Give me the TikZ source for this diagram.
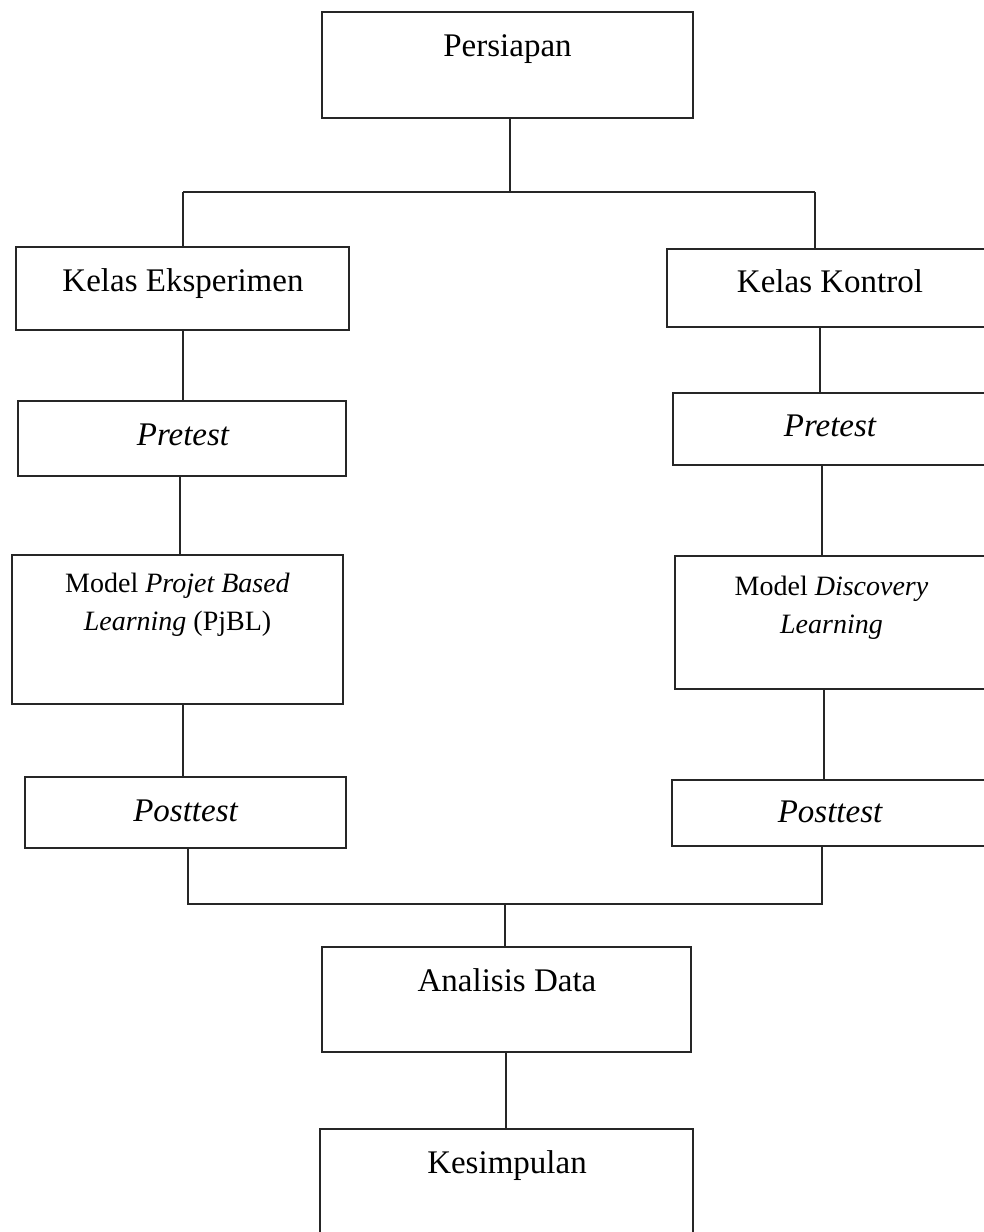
\documentclass[tikz,border=0pt]{standalone}
\usepackage{fontspec}
\setmainfont{Liberation Serif}
\usetikzlibrary{calc}
\begin{document}
\begin{tikzpicture}[x=1pt,y=-1pt,
  box/.style={draw=black!85, line width=1.8pt, rectangle, inner sep=0pt},
  conn/.style={draw=black!85, line width=1.2pt},
  big/.style={font=\fontsize{33}{38}\selectfont, inner sep=0pt, anchor=base},
  mid/.style={font=\fontsize{28}{37.5}\selectfont, inner sep=0pt, anchor=base, align=center}]
\useasboundingbox[fill=white] (0,0) rectangle (984,1232);

% boxes
\node[box, minimum width=371pt, minimum height=106pt] (persiapan) at (507.5,65) {};
\node[box, minimum width=333pt, minimum height=83pt] (ke) at (182.5,288.5) {};
\node[box, minimum width=325pt, minimum height=78pt] (kk) at (829.5,288) {};
\node[box, minimum width=328pt, minimum height=75pt] (prel) at (182,438.5) {};
\node[box, minimum width=319pt, minimum height=72pt] (prer) at (832.5,429) {};
\node[box, minimum width=331pt, minimum height=149pt] (pjbl) at (177.5,629.5) {};
\node[box, minimum width=317pt, minimum height=133pt] (disc) at (833.5,622.5) {};
\node[box, minimum width=321pt, minimum height=71pt] (postl) at (185.5,812.5) {};
\node[box, minimum width=320pt, minimum height=66pt] (postr) at (832,813) {};
\node[box, minimum width=369pt, minimum height=105pt] (analisis) at (506.5,999.5) {};
\node[box, minimum width=373pt, minimum height=135pt] (kesimpulan) at (506.5,1196.5) {};

% texts
\node[big] (t-persiapan) at (507.5,56) {Persiapan};
\node[big] (t-ke) at (183,291.5) {Kelas Eksperimen};
\node[big] (t-kk) at (830,292.5) {Kelas Kontrol};
\node[big] (t-prel) at (183,445) {\itshape Pretest};
\node[big] (t-prer) at (830,436) {\itshape Pretest};
\node[mid] (t-pjbl) at (177.5,630) {Model \textit{Projet Based}\\\textit{Learning} (PjBL)};
\node[mid] (t-disc) at (831.5,633) {Model \textit{Discovery}\\\textit{Learning}};
\node[big] (t-postl) at (185.5,821) {\itshape Posttest};
\node[big] (t-postr) at (830,822) {\itshape Posttest};
\node[big] (t-analisis) at (507,991) {Analisis Data};
\node[big] (t-kesimpulan) at (507,1173) {Kesimpulan};

% connectors
\coordinate (split) at (510,192);
\coordinate (splitl) at (183,192);
\coordinate (splitr) at (815,192);
\draw[conn] ($(persiapan.south)+(2.5,0)$) -- (split);
\draw[conn] (splitl) -- (splitr);
\draw[conn] (splitl) -- (splitl |- ke.north);
\draw[conn] (splitr) -- (splitr |- kk.north);

\draw[conn] ($(ke.south)+(0.5,0)$) -- ($(prel.north)+(1,0)$);
\draw[conn] ($(kk.south)+(-9.5,0)$) -- ($(prer.north)+(-12.5,0)$);
\draw[conn] ($(prel.south)+(-2,0)$) -- ($(pjbl.north)+(2.5,0)$);
\draw[conn] ($(prer.south)+(-10.5,0)$) -- ($(disc.north)+(-11.5,0)$);
\draw[conn] ($(pjbl.south)+(5.5,0)$) -- ($(postl.north)+(-2.5,0)$);
\draw[conn] ($(disc.south)+(-9.5,0)$) -- ($(postr.north)+(-8,0)$);

\coordinate (joinl) at (188,904);
\coordinate (joinr) at (822,904);
\coordinate (join) at (505,904);
\draw[conn] ($(postl.south)+(2.5,0)$) -- (joinl) -- (joinr) -- ($(postr.south)+(-10,0)$);
\draw[conn] (join) -- ($(analisis.north)+(-1.5,0)$);
\draw[conn] ($(analisis.south)+(-0.5,0)$) -- ($(kesimpulan.north)+(-0.5,0)$);
\end{tikzpicture}
\end{document}
